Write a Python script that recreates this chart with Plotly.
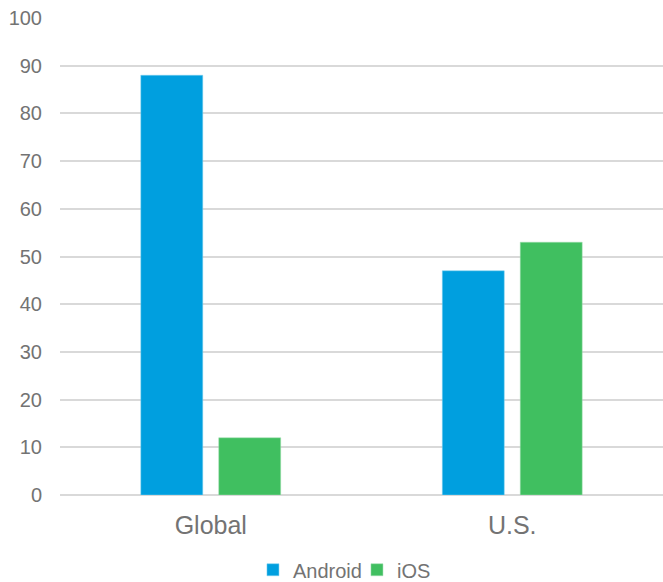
import plotly.graph_objects as go

categories = ["Global", "U.S."]
android = [88, 47]
ios = [12, 53]
y_ticks = [0, 10, 20, 30, 40, 50, 60, 70, 80, 90, 100]

fig = go.Figure()
fig.add_trace(go.Bar(name="Android", x=categories, y=android,
                     marker=dict(color="#009fdf", line=dict(color="#7fd0ef", width=0.5))))
fig.add_trace(go.Bar(name="iOS", x=categories, y=ios,
                     marker=dict(color="#40bf60", line=dict(color="#a0dfb0", width=0.5))))

fig.update_layout(
    width=663, height=582,
    margin=dict(l=60, r=0, t=18, b=87),
    paper_bgcolor="white", plot_bgcolor="white",
    barmode="group", bargap=0.483, bargroupgap=0.205,
    font=dict(family="Liberation Sans, Arial, sans-serif", color="#737373"),
    showlegend=True,
    legend=dict(orientation="h", x=0.320, xanchor="left",
                yref="container", y=0.021, yanchor="middle",
                font=dict(size=20, color="#737373"), itemwidth=30,
                entrywidth=59, entrywidthmode="pixels",
                traceorder="normal"),
)
fig.update_yaxes(range=[0, 100], tickvals=y_ticks, showgrid=True, gridcolor="#d9d9d9",
                 gridwidth=1.5, zeroline=True, zerolinecolor="#d9d9d9", zerolinewidth=1.5,
                 showline=False, tickfont=dict(size=20, color="#737373"), ticks="",
                 ticklabelstandoff=17)
fig.update_xaxes(showline=False, ticks="", tickfont=dict(size=25, color="#737373"),
                 ticklabelstandoff=13)

fig.write_html("out.html")
